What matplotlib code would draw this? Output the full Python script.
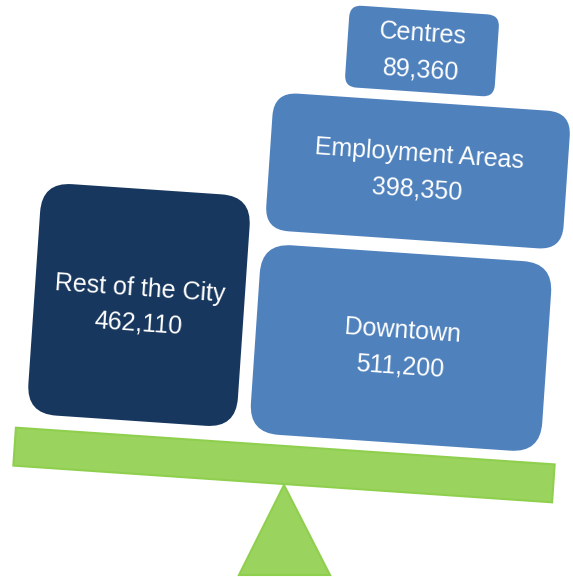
import matplotlib.pyplot as plt
from matplotlib.patches import FancyBboxPatch, Rectangle, Polygon
from matplotlib.transforms import Affine2D

# data
labels = ["Rest of the City", "Downtown", "Employment Areas", "Centres"]
values = [462110, 511200, 398350, 89360]
colors = ["#17375e", "#4f81bd", "#4f81bd", "#4f81bd"]

# layout (pixel coords, y down): centre x, centre y, width, height, corner radius
boxes = [
    (139, 305, 210, 232, 30),
    (401, 348, 292, 190, 30),
    (418, 171, 298, 138, 24),
    (422, 51, 150, 82, 12),
]
tilt = 3.9  # degrees, right side down

fig = plt.figure(figsize=(5.73, 5.77), dpi=100)
ax = fig.add_axes([0, 0, 1, 1])
ax.set_xlim(0, 573)
ax.set_ylim(577, 0)
ax.axis("off")

green = "#9bd35f"
green_edge = "#8fcf4e"

# beam
bx, by, bw, bh = 284, 465, 540, 38
beam = Rectangle((bx - bw / 2, by - bh / 2), bw, bh, facecolor=green,
                 edgecolor=green_edge, lw=1.5,
                 transform=Affine2D().rotate_deg_around(bx, by, tilt) + ax.transData)
ax.add_patch(beam)

# fulcrum
ax.add_patch(Polygon([(284, 485), (239, 575), (330, 575)], closed=True,
                     facecolor=green, edgecolor=green_edge, lw=1.5))

for (cx, cy, w, h, r), lab, val, col in zip(boxes, labels, values, colors):
    p = FancyBboxPatch((cx - w / 2, cy - h / 2), w, h,
                       boxstyle="round,pad=0,rounding_size=%d" % r,
                       facecolor=col, edgecolor="none",
                       transform=Affine2D().rotate_deg_around(cx, cy, tilt) + ax.transData)
    ax.add_patch(p)
    txt = "%s\n%s" % (lab, format(val, ","))
    ax.text(cx, cy + 1, txt, color="white",
            fontsize=18, family="Liberation Sans", ha="center", va="center",
            rotation=-tilt, rotation_mode="anchor", linespacing=1.6)

fig.savefig("out.png", dpi=100)
